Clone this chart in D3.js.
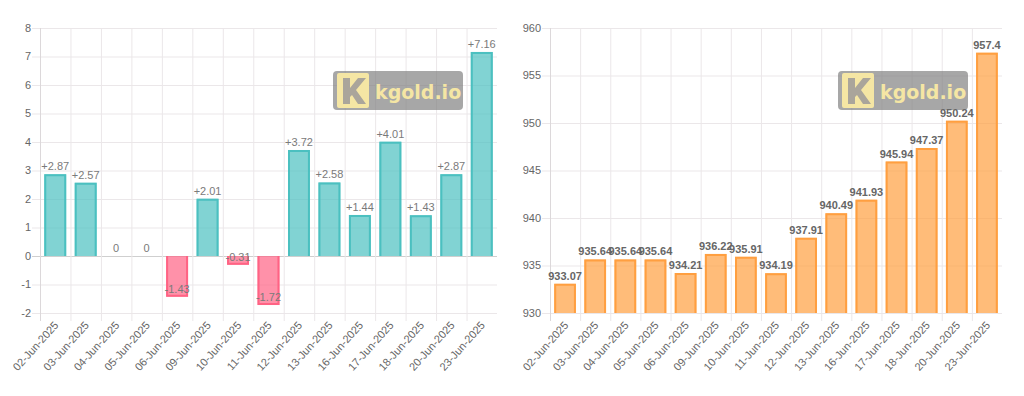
<!DOCTYPE html>
<html>
<head>
<meta charset="utf-8">
<script src="https://cdn.jsdelivr.net/npm/d3@7"></script>
<style>
  body { margin: 0; background: #fff; }
  svg { display: block; font-family: "Helvetica Neue", Helvetica, Arial, "Liberation Sans", sans-serif; }
</style>
</head>
<body>
<svg id="chart" width="1024" height="396"></svg>
<script>
const dates = ['02-Jun-2025', '03-Jun-2025', '04-Jun-2025', '05-Jun-2025', '06-Jun-2025',
  '09-Jun-2025', '10-Jun-2025', '11-Jun-2025', '12-Jun-2025', '13-Jun-2025',
  '16-Jun-2025', '17-Jun-2025', '18-Jun-2025', '20-Jun-2025', '23-Jun-2025']

const changeValues = [2.87, 2.57, 0, 0, -1.43, 2.01, -0.31, -1.72, 3.72, 2.58, 1.44, 4.01, 1.43, 2.87, 7.16]
const priceValues = [933.07, 935.64, 935.64, 935.64, 934.21, 936.22, 935.91, 934.19, 937.91, 940.49,
  941.93, 945.94, 947.37, 950.24, 957.4]

const changeTicks = [8, 7, 6, 5, 4, 3, 2, 1, 0, -1, -2]
const priceTicks = [960, 955, 950, 945, 940, 935, 930]

const PLOT_TOP = 28
const PLOT_BOTTOM = 313
const TICK_LENGTH = 8
const GRID_COLOR = '#ebe7e9'

const svg = d3.select('#chart')

function drawChart (opts) {
  const g = svg.append('g')
  const x = d3.scaleBand().domain(dates).range([opts.left, opts.right])
    .paddingInner(0.28).paddingOuter(0.14)
  const slot = d3.scaleBand().domain(dates).range([opts.left, opts.right])
  const y = d3.scaleLinear().domain(opts.domain).range([PLOT_BOTTOM, PLOT_TOP])
  const base = opts.base

  // horizontal grid + y ticks
  g.selectAll('line.hgrid').data(opts.ticks).join('line')
    .attr('x1', opts.left - TICK_LENGTH).attr('x2', opts.right)
    .attr('y1', d => y(d) + 0.5).attr('y2', d => y(d) + 0.5)
    .attr('stroke', d => (d === 0 ? '#cfcfcf' : GRID_COLOR))
    .attr('stroke-width', 1)

  // vertical grid at category boundaries
  g.selectAll('line.vgrid').data(dates).join('line')
    .attr('x1', d => slot(d) + 0.5).attr('x2', d => slot(d) + 0.5)
    .attr('y1', PLOT_TOP).attr('y2', PLOT_BOTTOM + TICK_LENGTH)
    .attr('stroke', (d, i) => (i === 0 ? '#dcd8da' : GRID_COLOR))

  g.selectAll('text.ytick').data(opts.ticks).join('text')
    .attr('x', opts.left - 9).attr('y', d => y(d)).attr('dy', '0.36em')
    .attr('text-anchor', 'end').attr('font-size', 11).attr('fill', '#666')
    .text(d => d)

  g.selectAll('text.xtick').data(dates).join('text')
    .attr('transform', d => 'translate(' + (slot(d) + slot.bandwidth() / 2 + 1) + ',' + (PLOT_BOTTOM + 10) + ') rotate(-48)')
    .attr('text-anchor', 'end').attr('dy', '0.36em')
    .attr('font-size', 11).attr('fill', '#666')
    .text(d => d)

  const data = opts.values.map((v, i) => ({ date: dates[i], value: v }))

  g.selectAll('rect.bar').data(data).join('rect')
    .attr('x', d => x(d.date)).attr('width', x.bandwidth())
    .attr('y', d => Math.min(y(d.value), y(base)))
    .attr('height', d => Math.abs(y(d.value) - y(base)))
    .attr('fill', d => (d.value >= base ? opts.fill : opts.negFill))

  g.selectAll('path.border').data(data.filter(d => d.value !== base)).join('path')
    .attr('fill', 'none').attr('stroke-width', 2)
    .attr('stroke', d => (d.value >= base ? opts.stroke : opts.negStroke))
    .attr('d', d => {
      const x0 = x(d.date) + 1
      const x1 = x(d.date) + x.bandwidth() - 1
      const yb = y(base)
      const ye = y(d.value) + (d.value > base ? 1 : -1)
      return 'M' + x0 + ',' + yb + 'V' + ye + 'H' + x1 + 'V' + yb
    })

  // watermark
  const wm = g.append('g').attr('transform', 'translate(' + (opts.right - 164) + ',71)')
  wm.append('rect').attr('width', 130).attr('height', 39).attr('rx', 4)
    .attr('fill', 'rgba(125,125,125,0.68)')
  wm.append('rect').attr('x', 4).attr('y', 2).attr('width', 32).attr('height', 35).attr('rx', 2)
    .attr('fill', '#f5e6a4')
  wm.append('path')
    .attr('transform', 'translate(4,2)')
    .attr('d', 'M6,5H13V15L21,5H29L19,17L29,31H21L15,22L13,24V31H6Z')
    .attr('fill', '#aaa59b')
  wm.append('text').attr('x', 42).attr('y', 28).attr('font-size', 19)
    .attr('font-family', 'DejaVu Sans').attr('font-weight', 'bold')
    .attr('fill', '#f5e6a4').text('kgold.io')

  g.selectAll('text.value').data(data).join('text')
    .attr('x', d => x(d.date) + x.bandwidth() / 2)
    .attr('y', d => y(d.value) - 4)
    .attr('text-anchor', 'middle').attr('font-size', 11)
    .attr('font-weight', opts.labelWeight).attr('fill', opts.labelColor)
    .text(opts.format)
}

drawChart({
  left: 40,
  right: 497,
  domain: [-2, 8],
  ticks: changeTicks,
  values: changeValues,
  base: 0,
  fill: 'rgba(75,192,192,0.7)',
  stroke: 'rgb(75,192,192)',
  negFill: 'rgba(255,99,132,0.7)',
  negStroke: 'rgb(255,99,132)',
  labelWeight: 'normal',
  labelColor: '#7a7a7a',
  format: d => (d.value > 0 ? '+' + d.value : String(d.value))
})

drawChart({
  left: 550,
  right: 1002,
  domain: [930, 960],
  ticks: priceTicks,
  values: priceValues,
  base: 930,
  fill: 'rgba(255,159,64,0.7)',
  stroke: 'rgb(255,159,64)',
  negFill: 'rgba(255,159,64,0.7)',
  negStroke: 'rgb(255,159,64)',
  labelWeight: 'bold',
  labelColor: '#666',
  format: d => String(d.value)
})
</script>
</body>
</html>
